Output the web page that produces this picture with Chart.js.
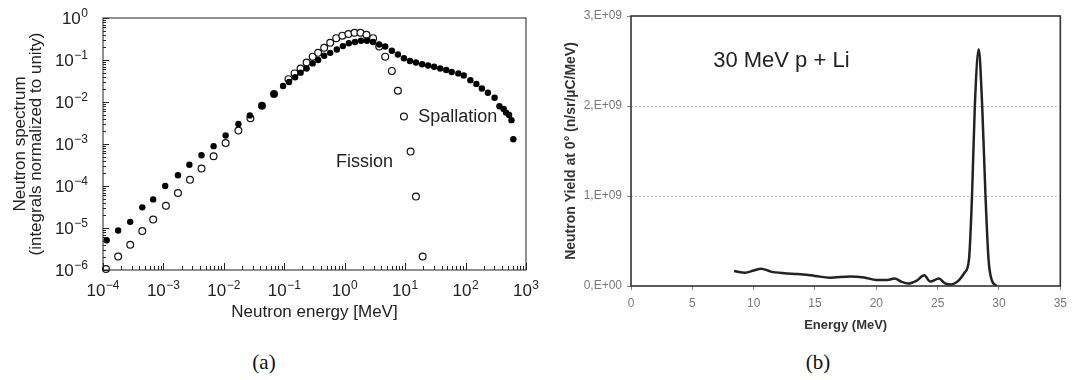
<!DOCTYPE html>
<html>
<head>
<meta charset="utf-8">
<script src="https://cdn.jsdelivr.net/npm/chart.js@4.4.1/dist/chart.umd.min.js"></script>
<style>
  body { margin: 0; background: #fff; width: 1073px; height: 380px; position: relative; overflow: hidden; }
  #box_a { position: absolute; left: 0; top: 0; }
  #box_b { position: absolute; left: 540px; top: 0; }
  .sub { position: absolute; top: 350px; font-family: "Liberation Serif", serif; font-size: 21px; color: #111; transform: translateX(-50%); }
</style>
</head>
<body>
<canvas id="box_a" width="540" height="340"></canvas>
<canvas id="box_b" width="533" height="340"></canvas>
<div class="sub" style="left:264px">(a)</div>
<div class="sub" style="left:818px">(b)</div>
<script>
// (a) spallation (filled) and fission (open) spectra
const spall_energy = [1.15e-4, 1.78e-4, 2.82e-4, 4.47e-4, 6.76e-4, 1.07e-3, 1.74e-3, 2.69e-3, 4.27e-3, 6.76e-3,
  1.07e-2, 1.74e-2, 2.69e-2, 4.27e-2, 6.76e-2, 0.0955, 0.120, 0.151, 0.186, 0.234, 0.295, 0.363, 0.457, 0.575,
  0.741, 0.933, 1.17, 1.48, 1.86, 2.34, 2.95, 3.72, 4.68, 6.03, 7.59, 9.55, 12.0, 15.1, 19.1, 24.0, 30.2, 38.0,
  47.9, 58.9, 75.9, 93.3, 120, 151, 186, 234, 302, 363, 427, 468, 525, 575, 617];
const spall_value = [5.1e-6, 8.7e-6, 1.4e-5, 3.1e-5, 4.8e-5, 1.0e-4, 1.8e-4, 3.2e-4, 5.4e-4, 8.9e-4,
  1.6e-3, 3.0e-3, 4.8e-3, 8.1e-3, 0.0155, 0.024, 0.030, 0.039, 0.050, 0.063, 0.083, 0.100, 0.126, 0.148,
  0.178, 0.214, 0.251, 0.269, 0.288, 0.288, 0.269, 0.234, 0.209, 0.166, 0.135, 0.110, 0.095, 0.087, 0.079, 0.074, 0.069, 0.063,
  0.058, 0.052, 0.048, 0.043, 0.033, 0.027, 0.021, 0.0166, 0.0126, 0.0079, 0.0068, 0.0056, 0.0049, 0.0037, 0.0013];
const fission_energy = [1.12e-4, 1.78e-4, 2.82e-4, 4.47e-4, 6.76e-4, 1.10e-3, 1.74e-3, 2.75e-3, 4.27e-3, 6.76e-3,
  1.07e-2, 1.74e-2, 2.75e-2, 4.27e-2, 6.76e-2, 0.117, 0.148, 0.186, 0.234, 0.295, 0.363, 0.457, 0.575, 0.724,
  0.912, 1.15, 1.45, 1.82, 2.29, 2.95, 3.72, 4.68, 6.03, 7.59, 9.55, 12.3, 15.1, 19.5];
const fission_value = [1.05e-6, 2.1e-6, 4.0e-6, 8.5e-6, 1.6e-5, 3.4e-5, 6.8e-5, 1.4e-4, 2.6e-4, 5.1e-4,
  1.05e-3, 2.1e-3, 4.1e-3, 8.1e-3, 0.0155, 0.035, 0.048, 0.063, 0.087, 0.120, 0.148, 0.195, 0.257, 0.331,
  0.380, 0.417, 0.447, 0.447, 0.398, 0.331, 0.209, 0.120, 0.055, 0.0186, 0.0045, 6.6e-4, 5.6e-5, 2.1e-6];
const decades_x = [-4, -3, -2, -1, 0, 1, 2, 3];
const decades_y = [-6, -5, -4, -3, -2, -1, 0];
const notes_a = [
  { text: 'Spallation', x: 16.5, y: 4.5e-3 },
  { text: 'Fission', x: 0.72, y: 3.7e-4 }
];

// (b) 30 MeV p + Li neutron yield
const yield_energy = [8.4, 9.3, 10.0, 10.6, 11.4, 12.5, 13.6, 15.0, 16.2, 17.9, 19.0, 20.0, 20.9, 21.5, 22.0, 22.6,
  23.3, 23.9, 24.4, 25.1, 25.6, 26.1, 26.7, 27.2, 27.55, 27.8, 28.03, 28.35, 28.63, 28.9, 29.15, 29.4, 29.8];
const yield_value = [0.166e9, 0.148e9, 0.172e9, 0.193e9, 0.160e9, 0.142e9, 0.133e9, 0.112e9, 0.093e9, 0.106e9, 0.095e9,
  0.068e9, 0.067e9, 0.084e9, 0.050e9, 0.027e9, 0.060e9, 0.120e9, 0.050e9, 0.082e9, 0.030e9, 0.018e9, 0.060e9, 0.150e9,
  0.29e9, 1.0e9, 2.0e9, 2.63e9, 2.0e9, 1.0e9, 0.29e9, 0.07e9, 0];
const yield_ticks = [0, 1e9, 2e9, 3e9];
const yield_tick_labels = ['0,E+00', '1,E+09', '2,E+09', '3,E+09'];
const energy_ticks = [0, 5, 10, 15, 20, 25, 30, 35];
const notes_b = [{ text: '30 MeV p + Li', x: 6.7, y: 2.5e9 }];

const SANS = '"Liberation Sans", Arial, sans-serif';
function zip(xs, ys) { return xs.map((x, i) => ({ x, y: ys[i] })); }
function expText(d) { return String(d).replace('-', '\u2212'); }

// box, inside ticks and 10^n labels for the log-log panel
const frameA = {
  id: 'frameA',
  afterDatasetsDraw(chart) {
    const { ctx, chartArea: a, scales: { x, y } } = chart;
    ctx.save();
    ctx.strokeStyle = '#222';
    ctx.lineWidth = 1;
    ctx.strokeRect(a.left, a.top, a.right - a.left, a.bottom - a.top);
    ctx.beginPath();
    decades_x.forEach(d => {
      for (let k = 1; k <= 9; k++) {
        if (d === 3 && k > 1) break;
        const px = Math.round(x.getPixelForValue(k * Math.pow(10, d))) + 0.5;
        const len = k === 1 ? 7 : 4;
        ctx.moveTo(px, a.bottom); ctx.lineTo(px, a.bottom - len);
      }
    });
    decades_y.forEach(d => {
      for (let k = 1; k <= 9; k++) {
        if (d === 0 && k > 1) break;
        const py = Math.round(y.getPixelForValue(k * Math.pow(10, d))) + 0.5;
        const len = k === 1 ? 6 : 3;
        ctx.moveTo(a.left, py); ctx.lineTo(a.left + len, py);
      }
    });
    ctx.stroke();

    // tick labels as 10 with a raised exponent
    const big = '17px ' + SANS, small = '12px ' + SANS;
    ctx.fillStyle = '#222';
    ctx.textBaseline = 'alphabetic';
    ctx.textAlign = 'left';
    function label(d, left, base) {
      ctx.font = big; ctx.fillText('10', left, base);
      const w = ctx.measureText('10').width;
      ctx.font = small; ctx.fillText(expText(d), left + w + 0.5, base - 7);
    }
    function width(d) {
      ctx.font = big; const w1 = ctx.measureText('10').width;
      ctx.font = small; return w1 + 0.5 + ctx.measureText(expText(d)).width;
    }
    decades_x.forEach(d => {
      const px = x.getPixelForValue(Math.pow(10, d));
      label(d, px - width(d) / 2, a.bottom + 26);
    });
    decades_y.forEach(d => {
      const py = y.getPixelForValue(Math.pow(10, d));
      label(d, a.left - 15 - width(d), py + 6);
    });
    ctx.restore();
  }
};

const notesPlugin = {
  id: 'notes',
  afterDatasetsDraw(chart, args, opts) {
    const { ctx, scales: { x, y } } = chart;
    ctx.save();
    ctx.font = opts.font;
    ctx.fillStyle = opts.color;
    ctx.textAlign = 'left';
    ctx.textBaseline = 'middle';
    opts.items.forEach(n => ctx.fillText(n.text, x.getPixelForValue(n.x), y.getPixelForValue(n.y)));
    ctx.restore();
  }
};

new Chart('box_a', {
  type: 'scatter',
  data: {
    datasets: [{
      data: zip(spall_energy, spall_value),
      pointRadius: 3.2, backgroundColor: '#000', borderColor: '#000', borderWidth: 0,
      clip: 6
    }, {
      data: zip(fission_energy, fission_value),
      pointRadius: 3.4, backgroundColor: '#fff', borderColor: '#111', borderWidth: 1.2,
      clip: 6
    }]
  },
  options: {
    responsive: false,
    animation: false,
    layout: { padding: { top: 18, right: 14, left: 0, bottom: 0 } },
    plugins: {
      legend: { display: false },
      tooltip: { enabled: false },
      notes: { items: notes_a, font: '18px ' + SANS, color: '#222' }
    },
    scales: {
      x: {
        type: 'logarithmic', min: 1e-4, max: 1e3,
        afterBuildTicks: s => { s.ticks = decades_x.map(d => ({ value: Math.pow(10, d) })); },
        afterFit: s => { s.height = 70; },
        grid: { display: false, drawTicks: false },
        border: { display: false },
        ticks: { display: false },
        title: { display: true, text: 'Neutron energy [MeV]', color: '#222', font: { family: SANS, size: 17, lineHeight: 1 }, padding: { top: 0, bottom: 19 } }
      },
      y: {
        type: 'logarithmic', min: 1e-6, max: 1,
        afterBuildTicks: s => { s.ticks = decades_y.map(d => ({ value: Math.pow(10, d) })); },
        afterFit: s => { s.width = 103; },
        grid: { display: false, drawTicks: false },
        border: { display: false },
        ticks: { display: false },
        title: { display: true, text: ['Neutron spectrum', '(integrals normalized to unity)'], color: '#222', font: { family: SANS, size: 17, lineHeight: 0.97 }, padding: { top: 12, bottom: 0 } }
      }
    }
  },
  plugins: [frameA, notesPlugin]
});

// excel-like frame for panel (b)
const frameB = {
  id: 'frameB',
  afterDatasetsDraw(chart) {
    const { ctx, chartArea: a } = chart;
    ctx.save();
    ctx.strokeStyle = '#333';
    ctx.lineWidth = 1.6;
    ctx.strokeRect(a.left, a.top, a.right - a.left, a.bottom - a.top);
    ctx.restore();
  }
};

new Chart('box_b', {
  type: 'line',
  data: {
    datasets: [{
      data: zip(yield_energy, yield_value),
      borderColor: '#222', borderWidth: 2.5, pointRadius: 0,
      cubicInterpolationMode: 'monotone', fill: false
    }]
  },
  options: {
    responsive: false,
    animation: false,
    layout: { padding: { top: 16, right: 7, left: 0, bottom: 0 } },
    plugins: {
      legend: { display: false },
      tooltip: { enabled: false },
      notes: { items: notes_b, font: '22px ' + SANS, color: '#222' }
    },
    scales: {
      x: {
        type: 'linear', min: 0, max: 35,
        afterBuildTicks: s => { s.ticks = energy_ticks.map(v => ({ value: v })); },
        afterFit: s => { s.height = 54; },
        grid: { drawOnChartArea: false, drawTicks: true, tickLength: 4, tickColor: '#888', tickWidth: 1 },
        border: { display: false },
        ticks: { autoSkip: false, maxRotation: 0, padding: 6, color: '#777', font: { family: SANS, size: 12 } },
        title: { display: true, text: 'Energy (MeV)', color: '#333', font: { family: SANS, size: 13, weight: 'bold', lineHeight: 1.2 }, padding: { top: 0, bottom: 7 } }
      },
      y: {
        type: 'linear', min: 0, max: 3e9,
        afterBuildTicks: s => { s.ticks = yield_ticks.map(v => ({ value: v })); },
        afterFit: s => { s.width = 91; },
        grid: {
          color: c => (c.tick && (c.tick.value === 1e9 || c.tick.value === 2e9)) ? '#c4c4c4' : 'rgba(0,0,0,0)',
          lineWidth: 1, drawTicks: true, tickLength: 4, tickColor: '#888', tickWidth: 1
        },
        border: { display: false, dash: [2, 2] },
        ticks: { callback: (v, i) => yield_tick_labels[i], padding: 5, color: '#777', font: { family: SANS, size: 12 } },
        title: { display: true, text: 'Neutron Yield at 0\u00B0 (n/sr/\u00B5C/MeV)', color: '#333', font: { family: SANS, size: 14, weight: 'bold', lineHeight: 1.2 }, padding: { top: 23, bottom: 0 } }
      }
    }
  },
  plugins: [frameB, notesPlugin]
});
</script>
</body>
</html>
